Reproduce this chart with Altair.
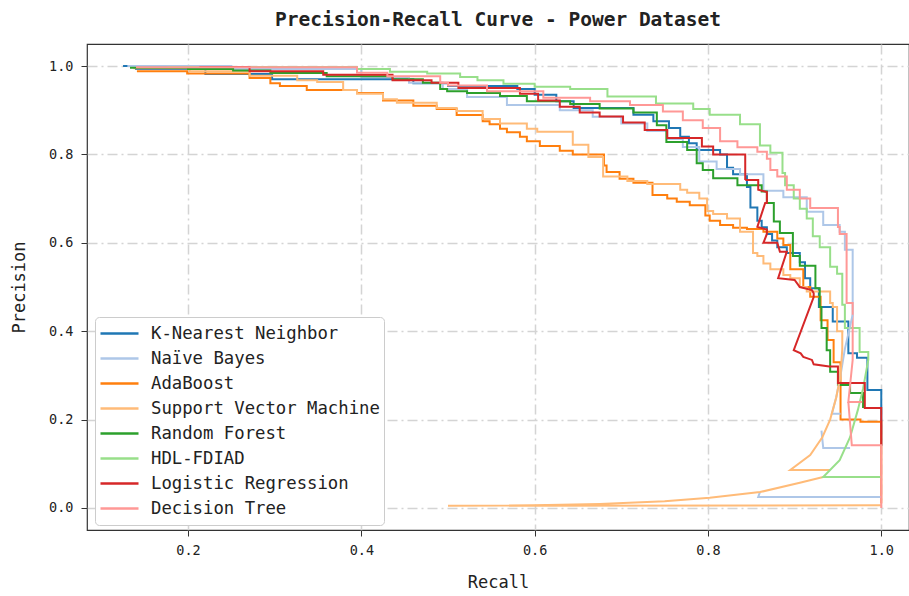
import altair as alt
import pandas as pd

names = ["K-Nearest Neighbor", "Naïve Bayes", "AdaBoost", "Support Vector Machine",
         "Random Forest", "HDL-FDIAD", "Logistic Regression", "Decision Tree"]
colors = ["#1f77b4", "#aec7e8", "#ff7f0e", "#ffbb78", "#2ca02c", "#98df8a", "#d62728", "#ff9896"]

x_ticks = [0.2, 0.4, 0.6, 0.8, 1.0]
y_ticks = [0.0, 0.2, 0.4, 0.6, 0.8, 1.0]

# ---- staircase parts (recall where a precision level starts, that level) ----
knn_r = [0.125, 0.14, 0.22, 0.297, 0.46, 0.50, 0.58, 0.60, 0.625, 0.645,
         0.714, 0.737, 0.755, 0.768, 0.778, 0.787, 0.814, 0.822, 0.829, 0.845,
         0.849, 0.857, 0.862, 0.868, 0.874, 0.88, 0.891, 0.906, 0.912, 0.918,
         0.928, 0.944, 0.962, 0.972, 0.984, 1.0]
knn_p = [1.0, 0.993, 0.982, 0.970, 0.961, 0.955, 0.948, 0.935, 0.920, 0.905,
         0.890, 0.875, 0.860, 0.840, 0.825, 0.810, 0.800, 0.770, 0.755, 0.726,
         0.680, 0.650, 0.635, 0.620, 0.605, 0.590, 0.577, 0.556, 0.520, 0.497,
         0.455, 0.422, 0.350, 0.340, 0.267, 0.14]

nb_r = [0.13, 0.25, 0.40, 0.455, 0.494, 0.522, 0.568, 0.629, 0.667, 0.70,
        0.73, 0.753, 0.771, 0.79, 0.81, 0.837, 0.864, 0.887, 0.914, 0.933,
        0.952, 0.958, 0.967]
nb_p = [1.0, 0.993, 0.975, 0.962, 0.948, 0.930, 0.912, 0.900, 0.885, 0.870,
        0.853, 0.835, 0.817, 0.784, 0.767, 0.755, 0.718, 0.703, 0.670, 0.640,
        0.625, 0.584, 0.437]

ada_r = [0.141, 0.199, 0.271, 0.295, 0.306, 0.337, 0.395, 0.425, 0.46, 0.487,
         0.51, 0.54, 0.548, 0.56, 0.568, 0.583, 0.591, 0.606, 0.629, 0.644,
         0.68, 0.683, 0.698, 0.714, 0.736, 0.753, 0.764, 0.779, 0.797, 0.802,
         0.814, 0.829, 0.845, 0.864, 0.88, 0.887, 0.895, 0.91, 0.918, 0.93,
         0.938, 0.945, 0.953, 0.976, 1.0]
ada_p = [0.988, 0.983, 0.973, 0.961, 0.955, 0.946, 0.939, 0.922, 0.910, 0.903,
         0.889, 0.875, 0.868, 0.858, 0.850, 0.840, 0.830, 0.819, 0.808, 0.800,
         0.775, 0.760, 0.745, 0.736, 0.708, 0.700, 0.693, 0.685, 0.662, 0.650,
         0.640, 0.634, 0.631, 0.625, 0.610, 0.595, 0.540, 0.500, 0.478, 0.425,
         0.380, 0.330, 0.200, 0.195, 0.01]

svm_r = [0.137, 0.202, 0.271, 0.326, 0.349, 0.379, 0.395, 0.425, 0.441, 0.487,
         0.51, 0.54, 0.56, 0.591, 0.603, 0.644, 0.662, 0.679, 0.707, 0.73,
         0.768, 0.776, 0.790, 0.799, 0.806, 0.822, 0.837, 0.852, 0.857, 0.864,
         0.872, 0.887, 0.895, 0.906, 0.914, 0.941, 0.944, 0.949, 0.955]
svm_p = [0.995, 0.988, 0.978, 0.968, 0.964, 0.946, 0.937, 0.925, 0.917, 0.905,
         0.898, 0.880, 0.870, 0.858, 0.851, 0.822, 0.794, 0.750, 0.740, 0.733,
         0.720, 0.713, 0.700, 0.672, 0.665, 0.655, 0.625, 0.577, 0.570, 0.553,
         0.540, 0.527, 0.520, 0.500, 0.490, 0.464, 0.455, 0.400, 0.360]

rf_r = [0.133, 0.20, 0.252, 0.295, 0.36, 0.436, 0.471, 0.491, 0.499, 0.522,
        0.56, 0.591, 0.641, 0.675, 0.714, 0.741, 0.752, 0.776, 0.787, 0.794,
        0.806, 0.834, 0.862, 0.868, 0.876, 0.883, 0.898, 0.906, 0.924, 0.929,
        0.931, 0.937, 0.941, 0.95, 0.964, 0.979]
rf_p = [0.996, 0.993, 0.990, 0.984, 0.977, 0.970, 0.962, 0.948, 0.943, 0.939,
        0.932, 0.920, 0.914, 0.904, 0.895, 0.866, 0.828, 0.810, 0.780, 0.765,
        0.746, 0.730, 0.716, 0.690, 0.648, 0.622, 0.570, 0.548, 0.497, 0.455,
        0.407, 0.357, 0.308, 0.278, 0.260, 0.226]

hdl_r = [0.176, 0.395, 0.433, 0.476, 0.514, 0.534, 0.564, 0.60, 0.641, 0.684,
         0.74, 0.783, 0.802, 0.837, 0.86, 0.872, 0.886, 0.889, 0.899, 0.906,
         0.914, 0.921, 0.929, 0.941, 0.949, 0.955, 0.958, 0.975, 0.985]
hdl_p = [0.998, 0.993, 0.987, 0.983, 0.975, 0.968, 0.960, 0.953, 0.948, 0.931,
         0.915, 0.903, 0.890, 0.868, 0.820, 0.804, 0.758, 0.730, 0.700, 0.677,
         0.655, 0.615, 0.590, 0.546, 0.530, 0.460, 0.407, 0.353, 0.335]

lr_r = [0.213, 0.271, 0.356, 0.436, 0.481, 0.512, 0.583, 0.604, 0.629, 0.652,
        0.675, 0.702, 0.727, 0.753, 0.793, 0.806, 0.843]
lr_p = [0.998, 0.988, 0.980, 0.968, 0.962, 0.950, 0.937, 0.922, 0.908, 0.895,
        0.886, 0.872, 0.855, 0.837, 0.818, 0.800, 0.742]

dt_r = [0.14, 0.395, 0.43, 0.491, 0.50, 0.545, 0.61, 0.664, 0.71, 0.748,
        0.771, 0.794, 0.814, 0.834, 0.857, 0.868, 0.872, 0.88, 0.891, 0.906,
        0.918, 0.95, 0.952, 0.96, 0.967]
dt_p = [0.997, 0.985, 0.977, 0.962, 0.956, 0.943, 0.928, 0.920, 0.912, 0.897,
        0.877, 0.860, 0.830, 0.816, 0.806, 0.790, 0.765, 0.750, 0.720, 0.700,
        0.679, 0.636, 0.620, 0.464, 0.335]

# ---- free-form tail segments (recall, precision) ----
nb_tail = [
    [(0.967, 0.437), (0.958, 0.36), (0.953, 0.30), (0.948, 0.25), (0.943, 0.213), (0.953, 0.213)],
    [(0.931, 0.175), (0.933, 0.136), (0.964, 0.136)],
    [(0.86, 0.036), (0.858, 0.025), (1.0, 0.025)],
]
svm_tail = [
    [(0.955, 0.36), (0.953, 0.30), (0.948, 0.25), (0.941, 0.20), (0.932, 0.16),
     (0.918, 0.12), (0.895, 0.086), (0.941, 0.086)],
    [(0.933, 0.07), (0.906, 0.057), (0.86, 0.036), (0.802, 0.023), (0.75, 0.015),
     (0.675, 0.009), (0.6, 0.006), (0.5, 0.005), (1.0, 0.006)],
]
hdl_tail = [
    [(0.985, 0.335), (0.979, 0.27), (0.973, 0.222), (0.964, 0.16), (0.952, 0.108),
     (0.933, 0.07), (1.0, 0.07)],
]
lr_tail = [
    [(0.843, 0.742), (0.858, 0.742), (0.858, 0.72), (0.868, 0.715), (0.868, 0.69),
     (0.866, 0.69), (0.857, 0.636), (0.868, 0.63), (0.868, 0.62), (0.864, 0.6),
     (0.88, 0.6), (0.883, 0.58), (0.891, 0.58), (0.881, 0.52), (0.9, 0.516),
     (0.906, 0.5), (0.92, 0.493), (0.922, 0.486), (0.922, 0.477), (0.899, 0.357),
     (0.907, 0.35), (0.91, 0.342), (0.92, 0.335), (0.922, 0.325), (0.94, 0.32),
     (0.95, 0.32), (0.95, 0.283), (0.981, 0.283), (0.981, 0.226), (1.0, 0.226),
     (1.0, 0.142)],
]
dt_tail = [
    [(0.967, 0.335), (0.962, 0.24), (0.978, 0.24)],
    [(0.962, 0.24), (0.966, 0.142), (1.0, 0.142), (1.0, 0.0)],
]

steps = {
    names[0]: (knn_r, knn_p), names[1]: (nb_r, nb_p), names[2]: (ada_r, ada_p),
    names[3]: (svm_r, svm_p), names[4]: (rf_r, rf_p), names[5]: (hdl_r, hdl_p),
    names[6]: (lr_r, lr_p), names[7]: (dt_r, dt_p),
}
tails = {names[1]: nb_tail, names[3]: svm_tail, names[5]: hdl_tail,
         names[6]: lr_tail, names[7]: dt_tail}

step_rows, tail_rows = [], []
for name in names:
    r, p = steps[name]
    for i, (a, b) in enumerate(zip(r, p)):
        step_rows.append({"model": name, "i": i, "recall": a, "precision": b})
    for s, seg in enumerate(tails.get(name, [])):
        for i, (a, b) in enumerate(seg):
            tail_rows.append({"model": name, "seg": f"{name}-{s}", "i": i,
                              "recall": a, "precision": b})

FONT = "DejaVu Sans Mono"

xenc = alt.X("recall:Q", scale=alt.Scale(domain=[0.0834, 1.032], nice=False, zero=False),
             axis=alt.Axis(values=x_ticks, format=".1f", title="Recall"))
yenc = alt.Y("precision:Q", scale=alt.Scale(domain=[-0.0498, 1.0498], nice=False, zero=False),
             axis=alt.Axis(values=y_ticks, format=".1f", title="Precision"))
legend = alt.Legend(orient="none", legendX=8, legendY=273, title=None,
                    symbolType="stroke", symbolSize=1444, symbolStrokeWidth=2.5,
                    labelFont=FONT, labelFontSize=17.3, labelOffset=11, labelColor="#222",
                    clipHeight=25, rowPadding=0, padding=4, fillColor="white",
                    strokeColor="#cccccc", cornerRadius=4, labelLimit=400)
cenc = alt.Color("model:N", scale=alt.Scale(domain=names, range=colors), legend=legend)

stairs = alt.Chart(pd.DataFrame(step_rows)).mark_line(
    interpolate="step-after", strokeWidth=2
).encode(x=xenc, y=yenc, color=cenc, order=alt.Order("i:Q"))

tail_lines = alt.Chart(pd.DataFrame(tail_rows)).mark_line(strokeWidth=2).encode(
    x=xenc, y=yenc, color=cenc, detail="seg:N", order=alt.Order("i:Q"))

chart = alt.layer(stairs, tail_lines).properties(
    width=822, height=486,
    autosize=alt.AutoSizeParams(type="none"),
    padding={"left": 87, "top": 44, "right": 0, "bottom": 66},
    title=alt.TitleParams("Precision-Recall Curve - Power Dataset", font=FONT,
                          fontSize=19.5, fontWeight="bold", anchor="middle",
                          frame="group", offset=16, dy=21, baseline="bottom", color="#222"),
).configure_view(stroke="#333", strokeWidth=1.2).configure_axis(
    labelFont=FONT, labelFontSize=13.5, labelColor="#222",
    titleFont=FONT, titleFontSize=17, titleFontWeight="normal", titleColor="#222",
    tickSize=6, tickColor="#333", domain=False,
    gridColor="#d4d4d4", gridDash=[10, 4, 2, 4], gridWidth=1.5,
).configure_axisX(labelPadding=7, titlePadding=18).configure_axisY(
    labelPadding=8, titlePadding=20)

chart.save("out.html", embed_options={"renderer": "svg", "actions": False})
